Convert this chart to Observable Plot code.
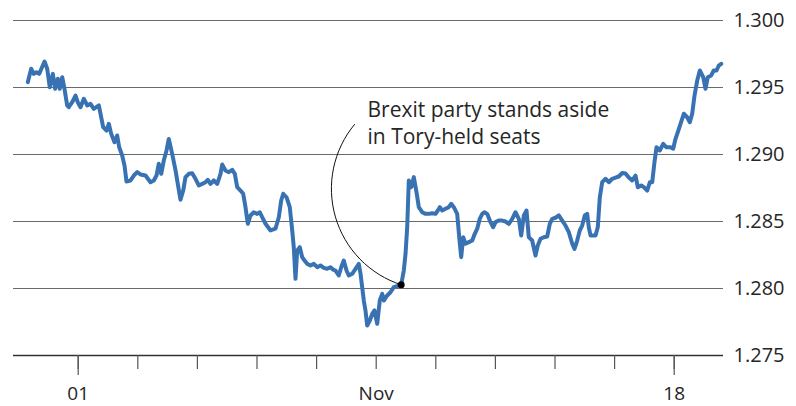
<!DOCTYPE html>
<html>
<head>
<meta charset="utf-8">
<script src="https://cdn.jsdelivr.net/npm/d3@7"></script>
<script src="https://cdn.jsdelivr.net/npm/@observablehq/plot@0.6"></script>
<style>
  html, body { margin: 0; padding: 0; background: #fff; }
</style>
</head>
<body>
<div id="chart"></div>
<script>
// x: trading-day index (0 = "01" tick, 5 = "Nov" tick, 10 = "18" tick)
const days = [
  -0.846,-0.789,-0.745,-0.700,-0.654,-0.565,-0.520,-0.477,-0.426,-0.386,
  -0.342,-0.309,-0.268,-0.230,-0.185,-0.158,-0.101,-0.045,-0.007,0.039,
  0.094,0.151,0.206,0.262,0.346,0.419,0.475,0.513,0.554,0.609,
  0.654,0.688,0.738,0.777,0.810,0.878,0.933,0.990,1.045,1.129,
  1.213,1.268,1.314,1.352,1.393,1.436,1.482,1.520,1.577,1.633,
  1.671,1.716,1.762,1.800,1.856,1.913,1.968,2.023,2.081,2.136,
  2.174,2.220,2.275,2.332,2.388,2.416,2.471,2.527,2.584,2.628,
  2.668,2.723,2.768,2.807,2.846,2.891,2.946,3.003,3.047,3.087,
  3.143,3.227,3.310,3.366,3.406,3.440,3.495,3.550,3.591,3.617,
  3.646,3.674,3.718,3.758,3.797,3.842,3.898,3.953,4.010,4.065,
  4.121,4.178,4.233,4.279,4.317,4.372,4.413,4.456,4.502,4.540,
  4.597,4.653,4.708,4.737,4.765,4.792,4.820,4.849,4.893,4.933,
  4.971,5.017,5.060,5.101,5.128,5.185,5.240,5.295,5.379,5.419,
  5.463,5.492,5.520,5.547,5.587,5.631,5.676,5.715,5.772,5.827,
  5.883,5.940,5.995,6.034,6.067,6.107,6.163,6.218,6.258,6.302,
  6.359,6.398,6.426,6.460,6.498,6.554,6.611,6.654,6.695,6.738,
  6.779,6.817,6.862,6.918,6.963,7.002,7.057,7.114,7.169,7.225,
  7.282,7.337,7.393,7.433,7.477,7.522,7.560,7.617,7.673,7.711,
  7.757,7.812,7.869,7.913,7.953,8.008,8.064,8.121,8.176,8.232,
  8.289,8.327,8.372,8.416,8.456,8.500,8.540,8.567,8.596,8.680,
  8.718,8.752,8.792,8.847,8.903,8.960,9.015,9.070,9.128,9.183,
  9.238,9.295,9.351,9.389,9.446,9.490,9.547,9.591,9.631,9.669,
  9.703,9.758,9.815,9.871,9.938,9.983,10.022,10.060,10.106,10.161,
  10.218,10.262,10.302,10.341,10.386,10.430,10.487,10.525,10.564,10.621,
  10.664,10.710,10.748,10.789
];
// $ per £
const prices = [
  1.29540,1.29640,1.29602,1.29614,1.29602,1.29694,1.29640,1.29502,1.29602,1.29490,
  1.29565,1.29490,1.29577,1.29490,1.29366,1.29353,1.29390,1.29440,1.29390,1.29353,
  1.29416,1.29366,1.29378,1.29341,1.29366,1.29204,1.29179,1.29229,1.29154,1.29092,
  1.29142,1.29054,1.28993,1.28918,1.28799,1.28806,1.28843,1.28868,1.28851,1.28843,
  1.28793,1.28806,1.28843,1.28931,1.28856,1.28955,1.29030,1.29116,1.29005,1.28881,
  1.28781,1.28662,1.28731,1.28831,1.28856,1.28860,1.28819,1.28769,1.28781,1.28793,
  1.28811,1.28781,1.28806,1.28781,1.28856,1.28925,1.28881,1.28868,1.28886,1.28856,
  1.28756,1.28731,1.28707,1.28607,1.28483,1.28545,1.28569,1.28557,1.28569,1.28532,
  1.28483,1.28433,1.28446,1.28532,1.28657,1.28707,1.28681,1.28607,1.28433,1.28308,
  1.28072,1.28284,1.28308,1.28234,1.28209,1.28184,1.28172,1.28184,1.28159,1.28172,
  1.28154,1.28147,1.28159,1.28140,1.28134,1.28097,1.28159,1.28209,1.28134,1.28097,
  1.28110,1.28147,1.28184,1.28110,1.28010,1.27910,1.27836,1.27724,1.27761,1.27811,
  1.27836,1.27737,1.27910,1.27960,1.27910,1.27948,1.27972,1.28010,1.28022,1.28028,
  1.28134,1.28259,1.28457,1.28806,1.28756,1.28831,1.28719,1.28607,1.28569,1.28557,
  1.28557,1.28562,1.28557,1.28582,1.28607,1.28582,1.28595,1.28607,1.28632,1.28607,
  1.28557,1.28358,1.28234,1.28383,1.28334,1.28346,1.28358,1.28408,1.28446,1.28520,
  1.28557,1.28569,1.28557,1.28495,1.28457,1.28495,1.28507,1.28507,1.28500,1.28483,
  1.28520,1.28569,1.28520,1.28396,1.28545,1.28582,1.28383,1.28358,1.28246,1.28321,
  1.28371,1.28383,1.28388,1.28483,1.28520,1.28528,1.28545,1.28507,1.28470,1.28420,
  1.28334,1.28296,1.28358,1.28433,1.28470,1.28545,1.28557,1.28457,1.28396,1.28396,
  1.28457,1.28681,1.28793,1.28819,1.28793,1.28819,1.28828,1.28836,1.28862,1.28858,
  1.28828,1.28806,1.28843,1.28756,1.28769,1.28756,1.28731,1.28793,1.28793,1.28943,
  1.29054,1.29030,1.29080,1.29054,1.29054,1.29043,1.29117,1.29166,1.29229,1.29304,
  1.29278,1.29241,1.29304,1.29440,1.29552,1.29627,1.29577,1.29490,1.29577,1.29590,
  1.29627,1.29627,1.29664,1.29677
];

const yTicks = [1.275, 1.280, 1.285, 1.290, 1.295, 1.300];
const yTickLabels = ["1.275", "1.280", "1.285", "1.290", "1.295", "1.300"];
const xTickDays = [0, 1, 2, 3, 4, 5, 6, 7, 8, 9, 10];
const xTickLabels = ["01", "", "", "", "", "Nov", "", "", "", "", "18"];
const xMajorDays = [0, 10];

const annotationLines = ["Brexit party stands aside", "in Tory-held seats"];
const annotationTextAt = [{day: 4.854, price: 1.29419}];
const annotationLink = [{day1: 4.636, price1: 1.29224, day2: 5.419, price2: 1.28028}];
const eventPoint = [{day: 5.419, price: 1.28028}];

const data = days.map((d, i) => ({day: d, price: prices[i]}));
const labelOf = new Map(xTickDays.map((d, i) => [d, xTickLabels[i]]));
const yLabelOf = new Map(yTicks.map((d, i) => [d, yTickLabels[i]]));

const chart = Plot.plot({
  width: 796,
  height: 406,
  marginTop: 20,
  marginBottom: 51,
  marginLeft: 13,
  marginRight: 73,
  style: {fontFamily: "'Open Sans', sans-serif", fontSize: "20px", color: "#262626", background: "#fff"},
  x: {domain: [-1.0856, 10.8272], label: null},
  y: {domain: [1.275, 1.300], label: null},
  marks: [
    Plot.ruleY(yTicks.slice(1), {stroke: "#6a6a6a", strokeWidth: 1.2}),
    Plot.ruleY([yTicks[0]], {stroke: "#333", strokeWidth: 1.5}),
    Plot.axisX({ticks: xTickDays, tickSize: 14, tickFormat: () => "", stroke: "#555", strokeWidth: 1.2, label: null}),
    Plot.axisX({ticks: xMajorDays, tickSize: 20, tickFormat: () => "", stroke: "#555", strokeWidth: 1.2, label: null}),
    Plot.axisX({ticks: xTickDays.filter(d => labelOf.get(d)), tickSize: 0, tickPadding: 31, tickFormat: d => labelOf.get(d), label: null, fontSize: 19}),
    Plot.axisY({anchor: "right", ticks: yTicks, tickSize: 0, tickPadding: 10, tickFormat: d => yLabelOf.get(d), label: null, fontSize: 20}),
    Plot.lineY(data, {x: "day", y: "price", stroke: "#3872b3", strokeWidth: 4, strokeLinejoin: "round"}),
    Plot.arrow(annotationLink, {x1: "day1", y1: "price1", x2: "day2", y2: "price2", bend: -56, headLength: 0, stroke: "#111", strokeWidth: 1}),
    Plot.dot(eventPoint, {x: "day", y: "price", r: 3.5, fill: "#000"}),
    Plot.text(annotationTextAt, {x: "day", y: "price", text: () => annotationLines.join("\n"), textAnchor: "start", lineAnchor: "top", lineHeight: 1.27, fontSize: 21, fill: "#262626"})
  ]
});
document.getElementById("chart").appendChild(chart);
</script>
</body>
</html>
